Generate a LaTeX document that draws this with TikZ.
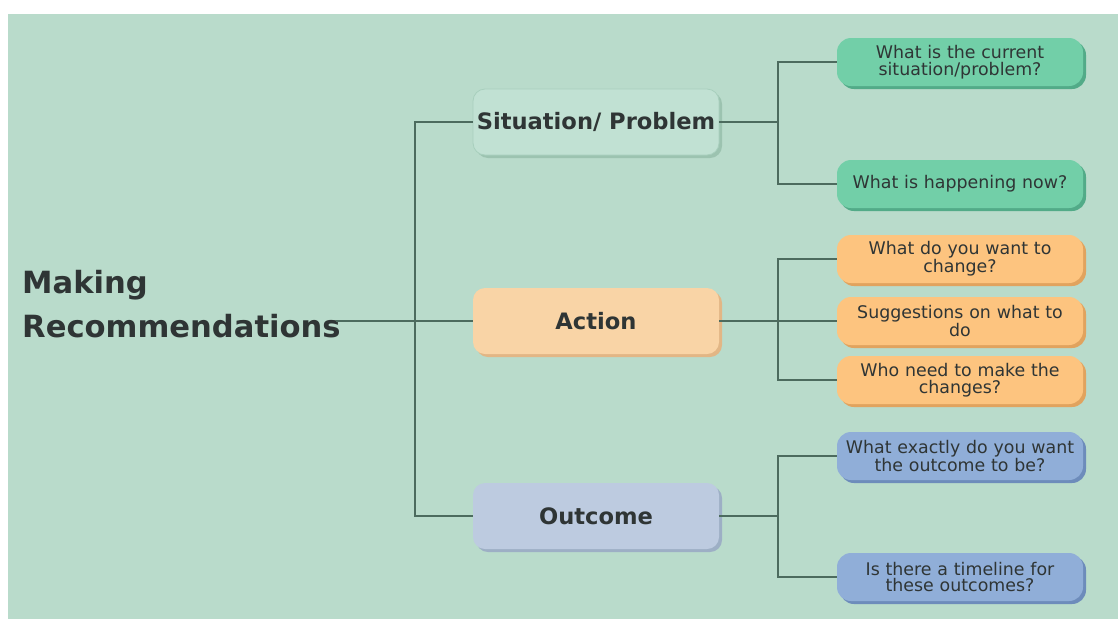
\documentclass[tikz,border=0pt]{standalone}
\usepackage{fontspec}
\setmainfont{DejaVu Sans}
\usetikzlibrary{shadows}

\definecolor{bg}{HTML}{B9DBCB}
\definecolor{ink}{HTML}{2F3535}
\definecolor{wire}{HTML}{4C6B5E}
\definecolor{sitfill}{HTML}{C1E1D3}
\definecolor{sitedge}{HTML}{A8CFBD}
\definecolor{sitshade}{HTML}{9CC3B0}
\definecolor{actfill}{HTML}{F9D4A6}
\definecolor{actshade}{HTML}{E2B685}
\definecolor{outfill}{HTML}{BDCBE0}
\definecolor{outshade}{HTML}{9DAFC5}
\definecolor{gfill}{HTML}{72CFA8}
\definecolor{gshade}{HTML}{52AB88}
\definecolor{ofill}{HTML}{FDC47F}
\definecolor{oshade}{HTML}{E1A35E}
\definecolor{bfill}{HTML}{90AED8}
\definecolor{bshade}{HTML}{6D8CBB}

\tikzset{
  mainbox/.style={rounded corners=12pt, minimum width=246pt, minimum height=66pt,
    inner sep=0pt, text=ink, font=\bfseries\fontsize{22.6}{24}\selectfont,
    drop shadow={shadow xshift=3pt, shadow yshift=-3pt, opacity=1, fill=#1}},
  leafbox/.style={rounded corners=14pt, minimum width=246pt, minimum height=48pt,
    inner sep=0pt, text width=244pt, align=center, text=ink,
    font=\fontsize{17.4}{16.5}\selectfont,
    drop shadow={shadow xshift=3pt, shadow yshift=-3pt, opacity=1, fill=#1}},
  wirestyle/.style={draw=wire, line width=1.2pt},
}

\begin{document}
\begin{tikzpicture}[x=1pt, y=-1pt]
  % canvas and margins
  \useasboundingbox (0,0) rectangle (1118,619);
  \fill[white] (0,0) rectangle (1118,619);
  \fill[bg] (8,14) rectangle (1118,619);

  % title
  \node[anchor=west, align=left, text=ink, font=\bfseries\fontsize{30.6}{44}\selectfont,
        inner sep=0pt] (title) at (22,304) {Making\\Recommendations};

  % second level
  \node[mainbox=sitshade, fill=sitfill, draw=sitedge, line width=0.8pt] (sit) at (596,122) {Situation/ Problem};
  \node[mainbox=actshade, fill=actfill] (act) at (596,321) {Action};
  \node[mainbox=outshade, fill=outfill] (out) at (596,516) {Outcome};

  % leaves
  \node[leafbox=gshade, fill=gfill] (s1) at (960,62) {What is the current\\situation/problem?};
  \node[leafbox=gshade, fill=gfill] (s2) at (960,184) {What is happening now?};
  \node[leafbox=oshade, fill=ofill] (a1) at (960,259) {What do you want to\\change?};
  \node[leafbox=oshade, fill=ofill] (a2) at (960,321) {Suggestions on what to\\do};
  \node[leafbox=oshade, fill=ofill] (a3) at (960,380) {Who need to make the\\changes?};
  \node[leafbox=bshade, fill=bfill] (o1) at (960,456) {What exactly do you want\\the outcome to be?};
  \node[leafbox=bshade, fill=bfill] (o2) at (960,577) {Is there a timeline for\\these outcomes?};

  % junction points
  \coordinate (root) at (336,321);
  \coordinate (spine) at (415,321);
  \coordinate (rjoin) at (778,0);

  % connectors
  \draw[wirestyle] (root) -- (act.west);
  \draw[wirestyle] (sit.west) -| (spine) |- (out.west);
  \draw[wirestyle] (sit.east) -- (rjoin |- sit.east);
  \draw[wirestyle] (s1.west) -| (rjoin |- sit.east) |- (s2.west);
  \draw[wirestyle] (act.east) -- (a2.west);
  \draw[wirestyle] (a1.west) -| (rjoin |- act.east) |- (a3.west);
  \draw[wirestyle] (out.east) -- (rjoin |- out.east);
  \draw[wirestyle] (o1.west) -| (rjoin |- out.east) |- (o2.west);
\end{tikzpicture}
\end{document}
